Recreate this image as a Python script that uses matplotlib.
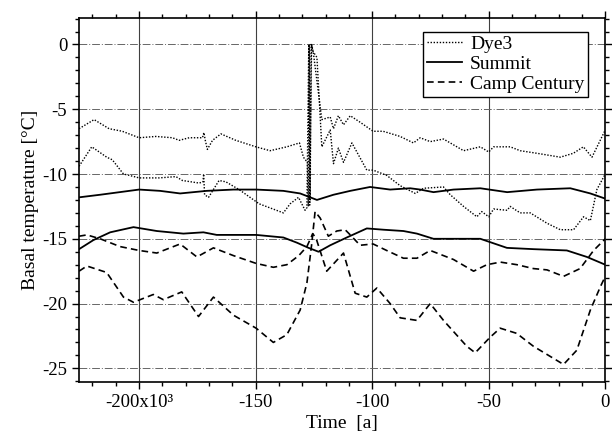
import matplotlib.pyplot as plt
from matplotlib.ticker import MultipleLocator

plt.rcParams['font.family'] = ['Liberation Serif', 'DejaVu Serif']

# time in thousands of years (ka), temperatures in degC
dye3_a_t = [-225.75, -219.3, -212.9, -207.2, -200, -192.8, -185.7, -182.8, -178.5, -172.8, -172.2, -171.6,
            -170.7, -168.5, -164.9, -158.5, -149.9, -143.8, -136.6, -131.2, -129.5, -127.8, -127.4, -127.0,
            -126.6, -126.2, -125.7, -125.2, -121.6, -118, -116.6, -114.5, -112.3, -109.4, -105.2, -99.6,
            -95.3, -88, -82.3, -79.4, -75.1, -69.4, -66.5, -60.8, -53.6, -50, -47.9, -40.8, -36.5, -29.3,
            -19.3, -13.7, -9.4, -5.7, 0]
dye3_a = [-6.5, -5.8, -6.5, -6.7, -7.2, -7.1, -7.2, -7.4, -7.2, -7.2, -6.8, -7.4,
          -8.1, -7.4, -6.9, -7.4, -7.9, -8.2, -7.9, -7.6, -8.7, -9.1, -12.5, 0.0,
          -12.0, 0.0, -0.2, -0.7, -5.8, -5.6, -6.5, -5.5, -6.2, -5.5, -6.0, -6.7,
          -6.7, -7.1, -7.6, -7.2, -7.5, -7.3, -7.6, -8.2, -7.9, -8.3, -7.9, -7.9, -8.2, -8.4,
          -8.7, -8.4, -7.9, -8.7, -6.6]

dye3_b_t = [-225.75, -220.3, -213.9, -211.5, -206.7, -204.3, -200, -191.4, -184.2, -181.4, -174.2, -172.6,
            -172.3, -171.9, -170.2, -165.7, -162.8, -157.1, -148.5, -138.1, -135.2, -131.6, -128.8, -128.0,
            -127.2, -126.8, -126.0, -125.5, -123.7, -121.6, -118, -116.6, -114.5, -112.3, -108.7, -102.3,
            -99.6, -93.8, -88, -81.5, -78, -69.4, -66.5, -60.8, -55.1, -53, -50, -47.9, -42.1, -40.8,
            -36.5, -32.2, -25, -19.3, -13.6, -9.3, -6.4, -3.6, 0]
dye3_b = [-9.4, -7.9, -8.7, -8.9, -10.0, -10.1, -10.3, -10.3, -10.2, -10.5, -10.7, -10.6,
          -10.0, -11.6, -11.8, -10.5, -10.6, -11.2, -12.3, -13.0, -12.3, -11.8, -12.8, -12.6,
          0.0, -12.4, 0.0, -0.5, -1.0, -7.9, -6.6, -9.2, -8.0, -9.1, -7.6, -9.7,
          -9.7, -10.1, -10.9, -11.5, -11.1, -11.0, -11.6, -12.5, -13.3, -12.9, -13.3, -12.7, -12.8, -12.5,
          -13.0, -13.0, -13.8, -14.3, -14.3, -13.3, -13.6, -11.2, -10.0]

summit_a_t = [-225.75, -216.7, -200, -191, -182.4, -171, -159.5, -149.8, -138.1, -130.9, -123.7, -116.6,
              -109.4, -100.9, -92.3, -83.7, -79.4, -73.7, -65.1, -53.6, -42.1, -29.3, -15.0, -6.4, 0]
summit_a = [-11.8, -11.6, -11.2, -11.3, -11.5, -11.3, -11.2, -11.2, -11.3, -11.5, -12.0, -11.6,
            -11.3, -11.0, -11.2, -11.1, -11.2, -11.4, -11.2, -11.1, -11.4, -11.2, -11.1, -11.5, -11.9]

summit_b_t = [-225.75, -219.6, -212.4, -202.4, -192.4, -181, -172.4, -166.7, -149.8, -138.1, -132.3, -127.3,
              -123, -118, -110.9, -102.3, -95.1, -86.6, -80.8, -73.7, -62.2, -53.6, -42.2, -30.8, -16.5,
              -7.9, 0]
summit_b = [-15.8, -15.1, -14.5, -14.1, -14.4, -14.6, -14.5, -14.7, -14.7, -14.9, -15.3, -15.7,
            -16.0, -15.5, -14.9, -14.2, -14.3, -14.4, -14.6, -15.0, -15.0, -15.0, -15.7, -15.8, -15.9,
            -16.4, -17.0]

camp_a_t = [-225.75, -222.4, -216.7, -208.2, -200, -192.4, -182.4, -175.2, -168.1, -159.5, -149.8, -142.4,
            -136.6, -131.5, -128, -125.5, -124.0, -119.5, -112.3, -107.3, -102.3, -98, -92.3, -88, -80.8,
            -75.1, -69.4, -59.4, -55.8, -49.4, -45.1, -38, -30.8, -17.9, -12.2, -6.4, -2.1, 0]
camp_a = [-14.8, -14.7, -15.0, -15.6, -15.9, -16.1, -15.4, -16.4, -15.7, -16.3, -16.9, -17.2,
          -17.0, -16.3, -15.6, -14.6, -15.0, -17.5, -16.1, -19.2, -19.5, -18.8, -20.0, -21.1, -21.3,
          -20.0, -21.3, -23.3, -23.8, -22.6, -21.9, -22.3, -23.3, -24.7, -23.6, -20.5, -18.7, -17.9]

camp_b_t = [-225.75, -222.4, -213.9, -206.7, -202.4, -193.9, -189.6, -181.7, -174.5, -168.1, -159.5, -149.8,
            -142.4, -136.6, -130.9, -128, -126, -124.5, -122.3, -118.8, -115.2, -111.6, -109.4, -105.2,
            -99.6, -93.8, -86.6, -80.8, -75.1, -65.1, -56.5, -50.8, -45, -37.9, -30.8, -25, -17.9, -10.8,
            -5, 0]
camp_b = [-17.5, -17.1, -17.6, -19.5, -19.9, -19.3, -19.7, -19.1, -21.0, -19.5, -20.9, -21.9,
          -23.0, -22.4, -20.5, -18.4, -15.5, -12.9, -13.4, -14.8, -14.4, -14.3, -14.7, -15.5,
          -15.4, -15.9, -16.5, -16.5, -15.9, -16.6, -17.5, -17.0, -16.8, -17.0, -17.3, -17.4, -17.9, -17.3,
          -15.9, -15.0]

x_ticks = [-200000, -150000, -100000, -50000, 0]
x_labels = ['-200x10³', '-150', '-100', '-50', '0']
y_ticks = [0, -5, -10, -15, -20, -25]


def years(ka):
    return [v * 1000 for v in ka]


fig = plt.figure(figsize=(6.12, 4.37), dpi=100)
ax = fig.add_axes([0.129, 0.126, 0.86, 0.833])

dots = dict(color='k', lw=1.0, linestyle=(0, (1, 1.2)))
solid = dict(color='k', lw=1.3, linestyle='-')
dash = dict(color='k', lw=1.2, linestyle=(0, (4, 2.5)))

ax.plot(years(dye3_a_t), dye3_a, label='Dye3', **dots)
ax.plot(years(dye3_b_t), dye3_b, **dots)
ax.plot(years(summit_a_t), summit_a, label='Summit', **solid)
ax.plot(years(summit_b_t), summit_b, **solid)
ax.plot(years(camp_a_t), camp_a, label='Camp Century', **dash)
ax.plot(years(camp_b_t), camp_b, **dash)

ax.set_xlim(-225800, 0)
ax.set_ylim(-26.05, 2.05)
ax.set_xticks(x_ticks)
ax.set_xticklabels(x_labels)
ax.set_yticks(y_ticks)
ax.set_yticklabels([str(v) for v in y_ticks])
ax.xaxis.set_minor_locator(MultipleLocator(10000))
ax.yaxis.set_minor_locator(MultipleLocator(1))

ax.grid(True, axis='x', which='major', color='0.25', lw=0.8, linestyle='-')
ax.grid(True, axis='y', which='major', color='0.4', lw=0.7, linestyle=(0, (8, 2, 1, 2)))
ax.set_axisbelow(True)

ax.tick_params(which='both', direction='out', top=True, right=True, labelsize=13.5, width=1)
ax.tick_params(which='major', length=5)
ax.tick_params(which='minor', length=3)
for s in ax.spines.values():
    s.set_linewidth(1.2)

ax.set_xlabel('Time  [a]', fontsize=14, labelpad=3)
ax.set_ylabel('Basal temperature [°C]', fontsize=14, labelpad=2)

leg = ax.legend(loc='upper right', bbox_to_anchor=(0.968, 0.962), borderaxespad=0, fontsize=14,
                handlelength=1.8, labelspacing=0.12, handletextpad=0.4, borderpad=0.2,
                fancybox=False, framealpha=1)
leg.get_frame().set_edgecolor('k')
leg.get_frame().set_linewidth(1.0)

plt.savefig('out.png', dpi=100)
